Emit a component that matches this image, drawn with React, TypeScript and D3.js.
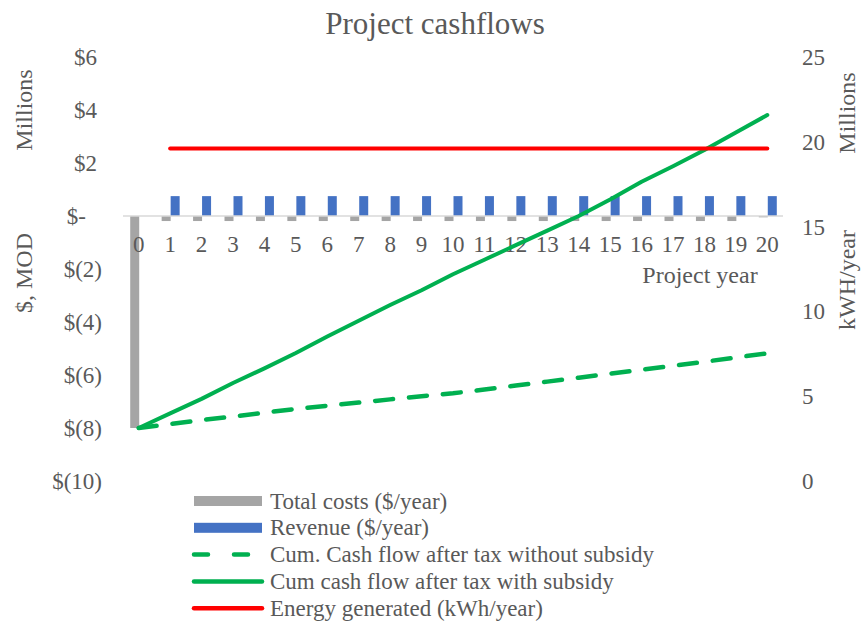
import React from "react";
import * as d3 from "d3";

const years = d3.range(0, 21);
const totalCosts = [-8.0, -0.19, -0.19, -0.19, -0.19, -0.19, -0.19, -0.19, -0.19, -0.19, -0.19, -0.19, -0.19, -0.19, -0.19, -0.19, -0.19, -0.19, -0.19, -0.19, -0.05];
const revenue = [0, 0.75, 0.75, 0.75, 0.75, 0.75, 0.75, 0.75, 0.75, 0.75, 0.75, 0.75, 0.75, 0.75, 0.75, 0.75, 0.75, 0.75, 0.75, 0.75, 0.75];
const cumNoSubsidy = [-8.0, -7.85, -7.7, -7.57, -7.42, -7.28, -7.16, -7.04, -6.92, -6.8, -6.69, -6.55, -6.4, -6.25, -6.1, -5.95, -5.8, -5.65, -5.5, -5.34, -5.18];
const cumWithSubsidy = [-8.0, -7.45, -6.9, -6.3, -5.75, -5.17, -4.55, -3.95, -3.36, -2.8, -2.2, -1.65, -1.1, -0.55, 0.0, 0.62, 1.29, 1.88, 2.49, 3.15, 3.81];
const energy: (number | null)[] = [null, 19.6, 19.6, 19.6, 19.6, 19.6, 19.6, 19.6, 19.6, 19.6, 19.6, 19.6, 19.6, 19.6, 19.6, 19.6, 19.6, 19.6, 19.6, 19.6, 19.6];

const leftTicks = [6, 4, 2, 0, -2, -4, -6, -8, -10];
const rightTicks = [25, 20, 15, 10, 5, 0];

const legendItems = [
  { label: "Total costs ($/year)", kind: "bar", color: "#A5A5A5" },
  { label: "Revenue ($/year)", kind: "bar", color: "#4472C4" },
  { label: "Cum. Cash flow after tax without subsidy", kind: "dash", color: "#00B050" },
  { label: "Cum cash flow after tax with subsidy", kind: "line", color: "#00B050" },
  { label: "Energy generated (kWh/year)", kind: "line", color: "#FF0000" },
];

const FONT = "'Liberation Serif', 'Times New Roman', serif";
const TXT = "#595959";

function fmtLeft(v: number) {
  if (v === 0) return "$-";
  if (v < 0) return `$(${-v})`;
  return `$${v}`;
}

export default function App() {
  const W = 862, H = 621;
  const x = d3.scaleBand<number>().domain(years).range([123, 783]).padding(0);
  const yL = d3.scaleLinear().domain([-10, 6]).range([481, 57]);
  const yR = d3.scaleLinear().domain([0, 25]).range([481, 57]);
  const cx = (i: number) => (x(i) as number) + x.bandwidth() / 2;
  const sub = d3.scaleBand<string>().domain(["cost", "rev"]).range([-8.5, 9.5]).padding(0);

  const lineL = d3.line<number>().x((_, i) => cx(i)).y((d) => yL(d));
  const lineE = d3
    .line<number | null>()
    .defined((d) => d !== null)
    .x((_, i) => cx(i))
    .y((d) => yR(d as number));

  return (
    <svg width={W} height={H} style={{ position: "absolute", left: 0, top: 0, background: "#fff" }} fontFamily={FONT}>
      <rect x={0} y={0} width={W} height={H} fill="#fff" />
      <text x={435} y={34} textAnchor="middle" fontSize={31} fill={TXT}>Project cashflows</text>

      {/* left axis title */}
      <text transform="translate(32,110) rotate(-90)" textAnchor="middle" fontSize={24} fill={TXT}>Millions</text>
      <text transform="translate(32,273) rotate(-90)" textAnchor="middle" fontSize={24} fill={TXT}>$, MOD</text>
      {/* right axis title */}
      <text transform="translate(855,113) rotate(-90)" textAnchor="middle" fontSize={24} fill={TXT}>Millions</text>
      <text transform="translate(855,280) rotate(-90)" textAnchor="middle" fontSize={24} fill={TXT}>kWH/year</text>

      {/* left ticks */}
      {leftTicks.map((v) => {
        const s = fmtLeft(v);
        const xe = s.includes("(") ? 102 : s === "$-" ? 86 : 97;
        return (
          <text key={v} x={xe} y={yL(v)} dy="0.35em" textAnchor="end" fontSize={23} fill={TXT}>{s}</text>
        );
      })}
      {/* right ticks */}
      {rightTicks.map((v) => (
        <text key={v} x={802} y={yR(v)} dy="0.35em" textAnchor="start" fontSize={23} fill={TXT}>{v}</text>
      ))}

      {/* bars */}
      {years.map((yr, i) => (
        <g key={yr}>
          <rect
            x={cx(i) + (sub("cost") as number)}
            width={sub.bandwidth()}
            y={Math.min(yL(0), yL(totalCosts[i]))}
            height={Math.abs(yL(totalCosts[i]) - yL(0))}
            fill="#A5A5A5"
          />
          {revenue[i] !== 0 && (
            <rect
              x={cx(i) + (sub("rev") as number)}
              width={sub.bandwidth()}
              y={Math.min(yL(0), yL(revenue[i]))}
              height={Math.abs(yL(revenue[i]) - yL(0))}
              fill="#4472C4"
            />
          )}
        </g>
      ))}

      {/* zero axis line */}
      <line x1={123} x2={783} y1={yL(0)} y2={yL(0)} stroke="#D9D9D9" strokeWidth={1.5} />

      {/* x tick labels */}
      {years.map((yr, i) => (
        <text key={yr} x={cx(i)} y={252} textAnchor="middle" fontSize={23} fill={TXT}>{yr}</text>
      ))}
      <text x={700} y={283} textAnchor="middle" fontSize={24} fill={TXT}>Project year</text>

      {/* lines */}
      <path d={lineL(cumNoSubsidy) || ""} fill="none" stroke="#00B050" strokeWidth={4.5} strokeDasharray="18 16" strokeLinecap="round" />
      <path d={lineL(cumWithSubsidy) || ""} fill="none" stroke="#00B050" strokeWidth={4} strokeLinecap="round" strokeLinejoin="round" />
      <path d={lineE(energy) || ""} fill="none" stroke="#FF0000" strokeWidth={4} strokeLinecap="round" />

      {/* legend */}
      {legendItems.map((it, i) => {
        const y = 501 + i * 26.8;
        return (
          <g key={it.label}>
            {it.kind === "bar" ? (
              <rect x={194} y={y - 5} width={68} height={10} fill={it.color} />
            ) : (
              <line
                x1={194}
                x2={262}
                y1={y}
                y2={y}
                stroke={it.color}
                strokeWidth={4.5}
                strokeLinecap="round"
                strokeDasharray={it.kind === "dash" ? "14 26" : undefined}
              />
            )}
            <text x={270} y={y} dy="0.33em" fontSize={23} fill={TXT}>{it.label}</text>
          </g>
        );
      })}
    </svg>
  );
}
